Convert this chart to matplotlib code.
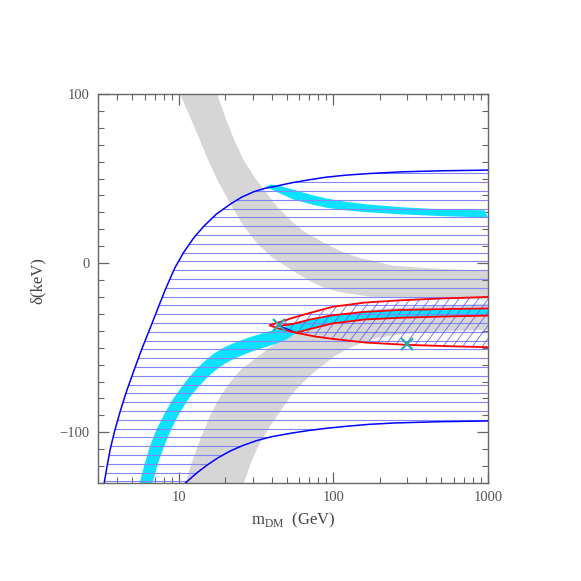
import numpy as np
import matplotlib
matplotlib.use("Agg")
import matplotlib.pyplot as plt
from matplotlib.patches import Polygon
from matplotlib.collections import LineCollection
from matplotlib.ticker import MultipleLocator, LogLocator, NullFormatter

plt.rcParams['font.family'] = ['Liberation Serif', 'DejaVu Serif']
plt.rcParams['mathtext.fontset'] = 'custom'
plt.rcParams['mathtext.rm'] = 'Liberation Serif'

# upper / lower boundary of the allowed region (blue)
upper_m = [3.29, 3.42, 3.6, 3.85, 4.18, 4.6, 5.1, 5.75, 6.55, 7.3, 8.19, 9.4, 10.77, 12.5,
           14.5, 17.5, 21.6, 25.5, 30.7, 36, 42, 54.4, 70, 89.5, 120, 171, 282, 500, 1000]
upper_d = [-130, -121, -110, -99, -87.5, -75.5, -64, -51, -38, -27, -15.5, -3, 6.5, 15,
           21.8, 29, 35, 39, 42.3, 44.2, 45.4, 47.6, 49.3, 50.8, 52, 53, 54, 54.6, 55]
lower_m = [11.04, 12, 13.3, 15.3, 18, 21.6, 26, 32.2, 40, 54.4, 70, 89.5, 120, 171, 250, 463, 1000]
lower_d = [-130, -127, -123.5, -119.3, -115, -111, -107.8, -104.8, -102.6, -100.4, -98.9,
           -97.7, -96.5, -95.3, -94.5, -93.8, -93.3]

# grey bands
grayA_top_m = [17.7, 20, 23, 26.4, 31, 37.4, 44, 54.4, 65, 89.5, 115, 147, 190, 242, 350, 500, 700, 1000]
grayA_top_d = [100, 86, 72, 60.5, 50.5, 40.8, 32.5, 24.2, 18.5, 11.4, 6.5, 3.2, 0.8, -1.4, -2.6, -3.4, -4, -4.4]
grayA_bot_m = [10.2, 12, 13.6, 15.3, 18, 21.6, 26, 32.2, 40, 54.4, 70, 85, 110, 171, 300, 1000]
grayA_bot_d = [100, 85, 73.5, 62, 48, 35, 22.5, 11.4, 3.5, -4.4, -10.5, -14.2, -17.2, -19.8, -21, -21.5]
grayB_top_m = [11.04, 12, 13.1, 14.5, 16, 18.5, 21.6, 25.5, 30.7, 38, 54.4, 75, 100, 140, 200, 400, 1000]
grayB_top_d = [-130, -119, -109.4, -99, -89.8, -79, -70.1, -62.5, -57, -50.5, -40.5, -34.5,
               -31, -28.8, -27, -25.5, -24]
grayB_bot_m = [26.4, 29, 32.2, 37, 43.5, 48.5, 54.4, 62, 75, 100, 125, 163, 200, 270, 443, 1000]
grayB_bot_d = [-130, -119, -109.4, -99.5, -90, -83.5, -77.2, -71.5, -64.5, -55.5, -50.5, -46,
               -44, -42, -40.5, -39.5]

# cyan bands
cyanA_top_m = [36.5, 39.5, 45, 54.4, 70, 89.5, 120, 170, 282, 500, 950]
cyanA_top_d = [45.2, 46.6, 45.6, 43.6, 40.6, 38.3, 36.3, 34.6, 33, 31.8, 31.2]
cyanA_bot_m = [36.5, 42, 54.4, 70, 89.5, 120, 170, 282, 500, 1000]
cyanA_bot_d = [45.2, 42.5, 37.8, 35, 32.8, 31.2, 30, 28.8, 27.8, 27]
cyanB_out_m = [5.58, 6.0, 6.55, 7.2, 8.0, 9.0, 10.25, 11.6, 13.1, 14.9, 16.9, 20, 23.9, 29,
               35.7, 44, 54.4, 70, 99.3, 160, 269, 500, 1000]
cyanB_out_d = [-130, -119, -107.5, -98, -89.8, -81.5, -74.1, -67.8, -62.3, -57.5, -53.4, -49.5,
               -46.4, -43.7, -41.2, -38.9, -36, -33.4, -30.8, -28.8, -27.7, -27.2, -26.8]
cyanB_in_m = [6.75, 7.3, 7.95, 8.9, 9.95, 11.5, 13.1, 14.9, 16.8, 19.4, 21.6, 25.8, 30.7, 36.5,
              43.5, 50, 57.5, 70, 99.3, 160, 269, 500, 1000]
cyanB_in_d = [-130, -119, -109.4, -98.5, -89.8, -80.5, -74.1, -68.6, -64.2, -60, -57.6, -54.4,
              -51.8, -49.6, -47.4, -45, -41.2, -39, -35.6, -33.3, -32.3, -31.6, -31.0]

# red contours
outer_up_m = [38.5, 45, 54.4, 70, 99.3, 160, 269, 500, 1000]
outer_up_d = [-36.8, -34.8, -32.4, -29.5, -25.8, -23.3, -22, -20.9, -20]
outer_lo_m = [38.5, 45, 57.5, 75, 99.3, 163, 297, 600, 1000]
outer_lo_d = [-36.8, -38.8, -41.2, -43.3, -44.8, -47, -48.3, -49.2, -49.7]
inner_up_m = [42.7, 54.4, 70, 99.3, 160, 269, 500, 1000]
inner_up_d = [-37.4, -36, -33.4, -30.8, -28.8, -27.7, -27.2, -26.8]
inner_lo_m = [57.5, 70, 99.3, 160, 269, 500, 1000]
inner_lo_d = [-41.2, -39, -35.6, -33.3, -32.3, -31.6, -31.0]

# best-fit points
cross_m = [44.4, 300]
cross_d = [-36.8, -47.6]


def band(ax, m1, d1, m2, d2, color, z):
    xy = np.column_stack([list(m1) + list(m2)[::-1], list(d1) + list(d2)[::-1]])
    p = Polygon(xy, closed=True, facecolor=color, edgecolor='none', zorder=z)
    ax.add_patch(p)
    return p


fig = plt.figure(figsize=(5.81, 5.81), dpi=100)
ax = fig.add_axes([98 / 581, 1 - 483 / 581, 390 / 581, 389 / 581])
ax.set_xscale('log')
ax.set_xlim(3, 1000)
ax.set_ylim(-130, 100)

band(ax, grayA_bot_m, grayA_bot_d, grayA_top_m, grayA_top_d, '#d6d6d6', 1)
band(ax, grayB_top_m, grayB_top_d, grayB_bot_m, grayB_bot_d, '#d6d6d6', 1)
band(ax, cyanA_top_m, cyanA_top_d, cyanA_bot_m, cyanA_bot_d, '#0ce2ff', 2)
band(ax, cyanB_out_m, cyanB_out_d, cyanB_in_m, cyanB_in_d, '#0ce2ff', 2)

# horizontal hatching inside the allowed region
region_xy = np.column_stack([upper_m + [1000] + lower_m[::-1],
                             upper_d + [lower_d[-1]] + lower_d[::-1]])
region = Polygon(region_xy, closed=True, facecolor='none', edgecolor='none')
ax.add_patch(region)
levels = np.arange(53.0, -131, -5.2)
hl = ax.hlines(levels, 3, 1000, colors='#8484ff', lw=0.8, zorder=3)
hl.set_clip_path(region)

# diagonal hatching inside the red contour
lens_xy = np.column_stack([outer_up_m + outer_lo_m[::-1], outer_up_d + outer_lo_d[::-1]])
lens = Polygon(lens_xy, closed=True, facecolor='none', edgecolor='none')
ax.add_patch(lens)
slope = 1.35
segs = [[(c, 0), (c + 1 / slope, 1)] for c in np.arange(-1.0, 1.0, 0.025)]
dl = LineCollection(segs, colors='#5c5cff', lw=0.55, transform=ax.transAxes, zorder=3)
ax.add_collection(dl)
dl.set_clip_path(lens)

ax.plot(upper_m, upper_d, color='#0000ff', lw=1.1, zorder=4)
ax.plot(lower_m, lower_d, color='#0000ff', lw=1.1, zorder=4)
ax.plot([44.4, 57.5], [-37.0, -41.2], color='#0000ff', lw=1.0, zorder=4)
for m, d in [(outer_up_m, outer_up_d), (outer_lo_m, outer_lo_d),
             (inner_up_m, inner_up_d), (inner_lo_m, inner_lo_d)]:
    ax.plot(m, d, color='#ff0000', lw=1.3, zorder=5, solid_capstyle='butt')

ax.plot(cross_m, cross_d, ls='none', marker='x', ms=8, mew=1.6, color='#2aa8b0', zorder=6)

# axes styling
axcol = '#666666'
for s in ax.spines.values():
    s.set_color(axcol)
    s.set_linewidth(1.0)
ax.set_yticks([-100, 0, 100])
ax.set_yticklabels(['\u2212100', '0', '100'])
ax.yaxis.set_minor_locator(MultipleLocator(10))
ax.set_xticks([10, 100, 1000])
ax.set_xticklabels(['10', '100', '1000'])
ax.xaxis.set_minor_locator(LogLocator(base=10, subs=np.arange(2, 10)))
ax.xaxis.set_minor_formatter(NullFormatter())
ax.tick_params(which='both', direction='in', top=True, right=True, color=axcol,
               labelcolor='#555555', labelsize=10.5)
ax.tick_params(which='major', length=8, width=0.9, pad=6)
ax.tick_params(which='minor', length=4.5, width=0.8)

ax.set_xlabel(r'$\mathrm{m}_{\mathrm{DM}}$  (GeV)', fontsize=12, color='#444444', labelpad=5)
ax.set_ylabel('\u03b4(keV)', fontsize=12, color='#444444')
ax.yaxis.set_label_coords(-0.135, 0.52)

fig.savefig('out.png', dpi=100)
